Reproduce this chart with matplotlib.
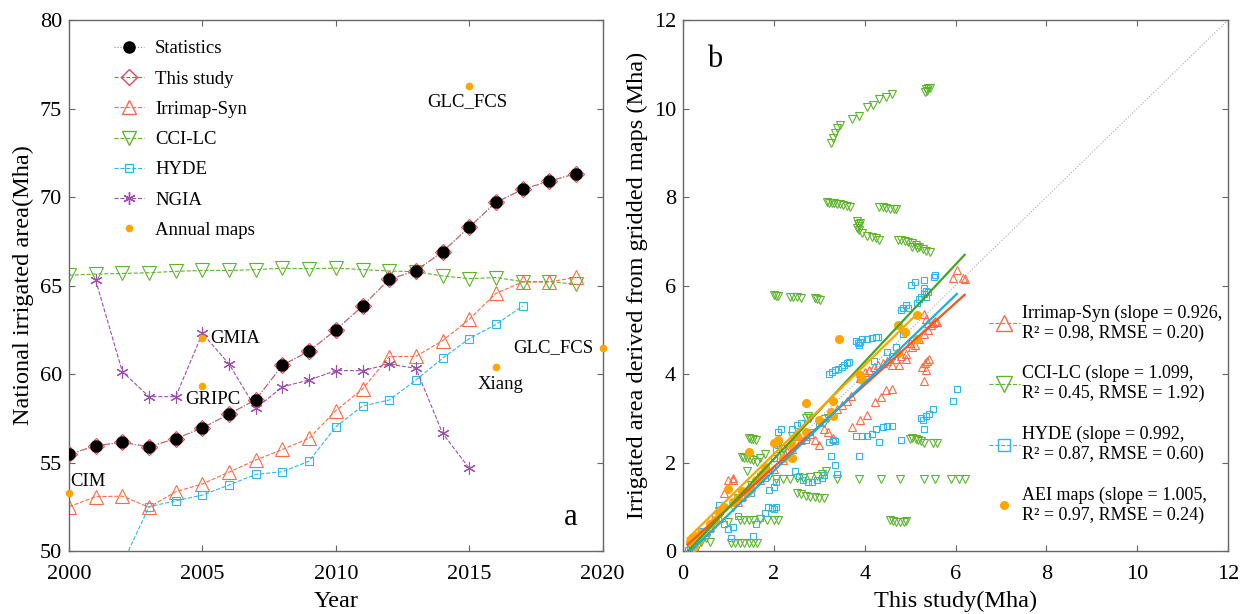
import numpy as np
import matplotlib
matplotlib.use('Agg')
import matplotlib.pyplot as plt
from matplotlib.lines import Line2D

plt.rcParams['font.family'] = ['Liberation Serif', 'DejaVu Serif']
plt.rcParams['mathtext.fontset'] = 'stix'

#### PANEL A data: national irrigated area (Mha)
years = list(range(2000, 2020))
statistics = [55.46, 55.95, 56.14, 55.89, 56.35, 56.95, 57.74, 58.55, 60.50, 61.30,
              62.49, 63.84, 65.35, 65.84, 66.91, 68.30, 69.70, 70.43, 70.90, 71.32]
this_study = [55.46, 55.95, 56.14, 55.89, 56.35, 56.95, 57.74, 58.55, 60.50, 61.30,
              62.49, 63.84, 65.35, 65.84, 66.91, 68.30, 69.70, 70.43, 70.90, 71.32]
irrimap = [52.50, 53.07, 53.10, 52.47, 53.35, 53.79, 54.46, 55.14, 55.74, 56.37,
           57.93, 59.15, 60.98, 61.00, 61.88, 63.09, 64.56, 65.20, 65.20, 65.46]
cci_lc = [65.58, 65.65, 65.68, 65.72, 65.80, 65.85, 65.85, 65.90, 65.98, 65.95,
          65.98, 65.90, 65.82, 65.78, 65.54, 65.39, 65.45, 65.22, 65.22, 65.07]
hyde_years = list(range(2000, 2018))
hyde = [47.5, 48.5, 49.28, 52.50, 52.84, 53.16, 53.73, 54.33, 54.48, 55.08,
        57.02, 58.19, 58.53, 59.66, 60.89, 62.00, 62.80, 63.84]
ngia_years = list(range(2001, 2016))
ngia = [65.31, 60.13, 58.72, 58.72, 62.30, 60.56, 58.06, 59.28, 59.66, 60.19,
        60.19, 60.56, 60.32, 56.65, 54.67]
map_names = ['CIM', 'GMIA', 'GRIPC', 'Xiang', 'GLC_FCS', 'GLC_FCS']
map_years = [2000, 2005, 2005, 2016, 2020, 2015]
map_values = [53.26, 62.02, 59.34, 60.41, 61.49, 76.29]
map_offsets = [(0.7, 8.3), (5.4, 0), (-12.5, -9.8), (3, -12.7), (-6.5, 0), (-1.3, -11.5)]
map_ha = ['left', 'left', 'left', 'center', 'right', 'center']

#### PANEL B data: gridded map area vs this study (Mha)
cci_x = [3.25, 3.30, 3.34, 3.38, 3.45, 3.72, 3.88, 4.05, 4.18, 4.31, 4.47, 4.60,
         5.32, 5.36, 5.40, 5.43, 5.38,
         3.17, 3.22, 3.28, 3.33, 3.38, 3.45, 3.52, 3.60, 3.67,
         4.32, 4.40, 4.48, 4.56, 4.64, 4.70,
         3.82, 3.85, 3.88, 3.84, 3.87, 3.90, 3.95, 4.05, 4.15, 4.25, 4.32,
         4.73, 4.80, 4.88, 4.96, 5.04, 5.12, 5.20, 5.28, 5.36, 5.44, 5.05, 5.15,
         2.00, 2.05, 2.10, 2.35, 2.42, 2.50, 2.60, 2.90, 2.96, 3.02,
         1.45, 1.50, 1.55, 1.60, 1.30, 1.35, 1.40, 1.48, 1.55, 1.62,
         2.05, 2.20, 2.35, 2.50, 2.65, 2.80, 2.95, 3.05, 3.15,
         3.38, 3.88, 4.35, 4.78, 5.31, 5.55, 5.90, 6.07, 6.20,
         2.50, 2.60, 2.70, 2.80, 2.90, 3.00, 3.10,
         5.00, 5.05, 5.12, 5.18, 5.25, 5.30, 5.50, 5.60,
         4.55, 4.62, 4.70, 4.78, 4.86, 4.92,
         1.70, 1.85, 2.00, 2.10, 1.25, 1.35, 1.45, 1.55,
         1.05, 1.15, 1.25, 1.35, 1.45, 1.55, 1.62,
         0.2, 0.3, 0.4, 0.5, 0.6, 0.7, 0.8, 1.0, 1.1, 1.2, 1.4, 1.5, 1.7, 1.8, 1.9,
         2.1, 2.2, 2.4, 2.7, 2.75, 2.8, 3.1, 3.2]
cci_y = [9.21, 9.33, 9.44, 9.55, 9.63, 9.76, 9.84, 10.04, 10.08, 10.21, 10.27, 10.32,
         10.38, 10.45, 10.47, 10.46, 10.40,
         7.88, 7.87, 7.87, 7.86, 7.85, 7.84, 7.82, 7.80, 7.77,
         7.78, 7.77, 7.75, 7.74, 7.73, 7.72,
         7.45, 7.40, 7.35, 7.30, 7.25, 7.42, 7.18, 7.12, 7.10, 7.08, 7.02,
         7.03, 7.02, 7.00, 6.98, 6.95, 6.92, 6.88, 6.82, 6.78, 6.76, 6.87, 6.85,
         5.78, 5.76, 5.76, 5.75, 5.74, 5.73, 5.72, 5.72, 5.70, 5.68,
         2.55, 2.53, 2.52, 2.50, 2.12, 2.10, 2.10, 2.08, 2.05, 2.02,
         1.62, 1.62, 1.63, 1.64, 1.65, 1.67, 1.70, 1.75, 1.80,
         1.62, 1.62, 1.62, 1.62, 1.62, 1.62, 1.62, 1.62, 1.62,
         1.30, 1.28, 1.25, 1.23, 1.21, 1.20, 1.19,
         2.52, 2.55, 2.52, 2.50, 2.48, 2.45, 2.45, 2.43,
         0.70, 0.68, 0.66, 0.66, 0.66, 0.67,
         0.72, 0.71, 0.70, 0.70, 0.70, 0.70, 0.70, 0.70,
         0.18, 0.17, 0.17, 0.17, 0.17, 0.17, 0.18,
         0.05, 0.10, 0.20, 0.30, 0.20, 0.60, 0.90, 0.65, 1.00, 1.20, 1.80, 1.50, 2.10, 2.20, 1.70,
         2.40, 2.30, 2.60, 3.00, 3.05, 3.00, 2.90, 3.00]

irr_x = [6.03, 5.95, 6.16, 6.20,
         5.31, 5.35, 5.40, 5.45, 5.50, 5.55, 5.60,
         5.27, 5.32, 5.38, 5.42, 5.35, 5.30,
         3.72, 3.89, 4.05, 4.22, 4.35, 4.47, 4.60,
         0.3, 0.5, 0.6, 0.8, 0.9, 1.0, 1.1, 1.2, 1.3, 1.5, 1.7, 1.8, 2.0, 2.2, 2.4, 2.5,
         2.7, 2.9, 3.0, 3.1, 3.2, 3.3,
         3.4, 3.5, 3.7, 3.9, 4.0, 4.1, 4.3, 4.5, 4.6, 4.7, 4.8, 4.9, 5.0, 5.1, 5.2, 5.3, 5.4,
         1.1, 2.3, 2.6, 2.8, 3.6, 4.2, 4.4, 4.75, 4.9, 5.05]
irr_y = [6.34, 6.16, 6.16, 6.14,
         5.35, 5.25, 5.15, 5.10, 5.15, 5.20, 5.18,
         4.15, 4.25, 4.30, 4.35, 4.10, 3.85,
         2.81, 2.95, 3.07, 3.37, 3.49, 3.64, 3.67,
         0.30, 0.45, 0.55, 0.75, 1.30, 1.60, 1.65, 1.10, 1.25, 1.45, 1.60, 1.90, 1.85, 2.05, 2.30, 2.60,
         2.60, 2.50, 2.40, 2.75, 2.70, 2.55,
         3.20, 3.30, 3.50, 3.90, 4.05, 4.10, 4.20, 4.30, 4.20, 4.35, 4.40, 4.45, 4.70, 4.65, 4.80, 4.90, 5.00,
         1.60, 2.25, 2.50, 2.65, 3.40, 4.15, 4.25, 4.20, 4.35, 4.60]

hyde_x = [5.02, 5.10, 5.31, 5.52, 5.55, 5.31, 5.35,
          5.15, 5.20, 5.25, 5.30, 5.35, 5.40, 4.80, 4.85, 4.90, 4.95,
          3.80, 3.85, 3.90, 3.95, 4.05, 4.15, 4.25, 4.30, 3.88,
          3.22, 3.28, 3.35, 3.42, 3.50, 3.55, 3.60, 3.65,
          4.40, 4.50, 4.60, 3.80, 3.95, 4.05, 4.15, 4.25,
          3.21, 3.30, 3.35, 3.25, 3.40, 3.35, 3.88, 4.31, 4.81,
          5.23, 5.28, 5.35, 5.42, 5.50, 5.30, 5.95, 6.03,
          2.46, 2.55, 2.65, 2.75, 2.85, 2.95, 3.05, 3.10,
          1.87, 1.95, 2.00, 2.05, 1.90, 2.00, 2.05,
          0.10, 0.15, 0.20, 0.25, 0.30, 0.40, 0.50, 0.60, 0.70, 0.80, 0.90, 1.00,
          1.05, 1.10, 1.20, 1.30, 1.40, 1.50, 1.60, 1.55, 1.70, 1.80, 1.70, 1.80,
          2.00, 2.05, 2.10, 2.20, 2.40, 2.50, 2.60, 2.70, 2.80, 3.00, 3.10, 2.10, 2.15,
          3.90, 4.20, 4.50, 4.70, 4.85, 4.60]
hyde_y = [6.01, 6.09, 6.12, 6.20, 6.24, 5.94, 5.88,
          5.60, 5.70, 5.75, 5.80, 5.75, 5.85, 5.45, 5.50, 5.55, 5.50,
          4.75, 4.70, 4.72, 4.78, 4.80, 4.82, 4.83, 4.83, 4.65,
          4.00, 4.05, 4.10, 4.12, 4.15, 4.20, 4.25, 4.28,
          2.80, 2.82, 2.82, 2.60, 2.60, 2.60, 2.65, 2.75,
          2.47, 2.50, 2.48, 2.15, 1.75, 1.95, 2.15, 2.47, 2.50,
          3.00, 2.95, 3.05, 3.10, 3.20, 2.75, 3.40, 3.67,
          1.80, 1.70, 1.60, 1.55, 1.55, 1.60, 1.65, 1.72,
          1.00, 0.98, 0.95, 1.00, 1.38, 1.45, 1.55,
          0.02, 0.05, 0.00, 0.20, 0.30, 0.45, 0.40, 0.50, 0.80, 1.05, 0.60, 0.50,
          0.30, 0.55, 0.80, 1.20, 1.30, 1.30, 0.60, 0.35, 0.75, 0.85, 1.70, 1.65,
          2.10, 2.30, 2.40, 2.20, 2.75, 2.85, 2.90, 2.50, 2.70, 2.90, 3.00, 2.70, 2.75,
          3.90, 4.30, 4.50, 4.60, 4.90, 4.40]

aei_x = [5.15, 4.73, 4.89, 5.16, 3.44, 2.71, 1.46, 4.73, 3.89, 3.95, 3.30, 3.25, 3.30,
         2.50, 2.40, 2.10, 2.00, 1.80, 1.70, 1.50, 1.60, 1.40, 1.20, 1.00, 1.10, 0.90,
         0.70, 0.60, 0.50, 0.40, 0.30, 0.20, 0.15, 0.25, 2.70, 3.00, 2.20, 2.40, 0.8,
         1.3, 1.75, 0.35]
aei_y = [5.33, 5.11, 4.96, 4.78, 4.78, 3.34, 2.23, 4.48, 3.98, 3.86, 3.40, 3.15, 3.05,
         2.60, 2.40, 2.50, 2.45, 1.90, 1.65, 1.40, 1.60, 1.30, 1.20, 1.40, 1.10, 1.00,
         0.70, 0.60, 0.45, 0.40, 0.35, 0.30, 0.20, 0.10, 2.70, 2.95, 2.10, 2.10, 0.85,
         1.35, 1.75, 0.25]

fit_names = ['Irrimap-Syn', 'CCI-LC', 'HYDE', 'AEI maps']
fit_slope = [0.926, 1.099, 0.992, 1.005]
fit_icpt = [0.05, -0.12, -0.17, 0.18]
fit_r2 = [0.98, 0.45, 0.87, 0.97]
fit_rmse = [0.20, 1.92, 0.60, 0.24]
fit_xmin = [0.10, 0.10, 0.10, 0.10]
fit_xmax = [6.20, 6.20, 6.03, 5.16]

c_stat_line = '#909090'
c_study = '#E04858'
c_irr = '#FF6A45'
c_cci = '#5DB52F'
c_hyde = '#2DB8EA'
c_ngia = '#A04DB0'
c_map = '#FFA500'
fit_colors = ['#F25422', '#46A41E', '#1AAEE6', '#FFA500']
spine_c = '#666666'

fig = plt.figure(figsize=(12.45, 6.14), dpi=100)
ax1 = fig.add_axes([0.0554, 0.1026, 0.4287, 0.8648])
ax2 = fig.add_axes([0.5486, 0.1026, 0.4378, 0.8648])

for ax in (ax1, ax2):
    for s in ax.spines.values():
        s.set_color(spine_c)
        s.set_linewidth(1.0)
    ax.tick_params(direction='in', length=4, width=0.8, color=spine_c,
                   labelsize=16, top=True, right=True, pad=5)
    ax.tick_params(axis='x', pad=10)

####PLOT A
ax1.plot(years, this_study, ls='-.', lw=0.8, color=c_study, marker='D', ms=8.5,
         mfc='none', mec=c_study, mew=0.8, zorder=3)
ax1.plot(years, statistics, ls=':', lw=0.8, color=c_stat_line, marker='o', ms=8,
         mfc='black', mec='black', zorder=4)
ax1.plot(years, irrimap, ls='--', lw=0.8, color=c_irr, marker='^', ms=10,
         mfc='none', mec=c_irr, mew=0.8, zorder=2)
ax1.plot(years, cci_lc, ls='--', lw=0.8, color=c_cci, marker='v', ms=10,
         mfc='none', mec=c_cci, mew=0.8, zorder=2)
ax1.plot(hyde_years, hyde, ls='--', lw=0.8, color=c_hyde, marker='s', ms=6,
         mfc='none', mec=c_hyde, mew=0.8, zorder=2)
ax1.plot(ngia_years, ngia, ls='--', lw=0.8, color=c_ngia, marker=(6, 2, 0), ms=9,
         mec=c_ngia, mew=0.8, zorder=2)
ax1.plot(map_years, map_values, ls='none', marker='o', ms=4.5, color=c_map,
         zorder=5, clip_on=False)
for nm, yr, v, off, ha in zip(map_names, map_years, map_values, map_offsets, map_ha):
    ax1.annotate(nm, (yr, v), xytext=off, textcoords='offset points',
                 ha=ha, va='center', fontsize=13.5)

ax1.text(2018.8, 51.9, 'a', fontsize=22, ha='center', va='center')
ax1.set_xlim(2000, 2020)
ax1.set_ylim(50, 80)
ax1.set_xticks([2000, 2005, 2010, 2015, 2020])
ax1.set_yticks([50, 55, 60, 65, 70, 75, 80])
ax1.set_xlabel('Year', fontsize=17.5, labelpad=5)
ax1.set_ylabel('National irrigated area(Mha)', fontsize=17.5, labelpad=4)

leg_a = [
    Line2D([], [], ls=':', lw=0.8, color=c_stat_line, marker='o', ms=8, mfc='black', mec='black'),
    Line2D([], [], ls='--', lw=0.8, color=c_study, marker='D', ms=8.5, mfc='none', mec=c_study),
    Line2D([], [], ls='--', lw=0.8, color=c_irr, marker='^', ms=10, mfc='none', mec=c_irr),
    Line2D([], [], ls='--', lw=0.8, color=c_cci, marker='v', ms=10, mfc='none', mec=c_cci),
    Line2D([], [], ls='--', lw=0.8, color=c_hyde, marker='s', ms=6, mfc='none', mec=c_hyde),
    Line2D([], [], ls='--', lw=0.8, color=c_ngia, marker=(6, 2, 0), ms=9, mec=c_ngia),
    Line2D([], [], ls='none', marker='o', ms=4.5, color=c_map),
]
ax1.legend(leg_a, ['Statistics', 'This study', 'Irrimap-Syn', 'CCI-LC', 'HYDE', 'NGIA', 'Annual maps'],
           loc='upper left', bbox_to_anchor=(0.07, 0.976), frameon=False, fontsize=13.5,
           handlelength=1.6, handletextpad=0.6, labelspacing=0.7, borderaxespad=0)

####PLOT B
ax2.plot([0, 12], [0, 12], ls=':', lw=0.8, color='#AAAAAA', zorder=1)
ax2.plot(cci_x, cci_y, ls='none', marker='v', ms=6, mfc='none', mec=c_cci, mew=0.8, zorder=2)
ax2.plot(irr_x, irr_y, ls='none', marker='^', ms=6, mfc='none', mec=c_irr, mew=0.8, zorder=2)
ax2.plot(hyde_x, hyde_y, ls='none', marker='s', ms=4, mfc='none', mec=c_hyde, mew=0.8, zorder=3)
ax2.plot(aei_x, aei_y, ls='none', marker='o', ms=5.5, color=c_map, zorder=4)

for k in range(4):
    xs = np.array([fit_xmin[k], fit_xmax[k]])
    ax2.plot(xs, fit_slope[k] * xs + fit_icpt[k], color=fit_colors[k], lw=1.6, zorder=5)

ax2.text(0.7, 11.1, 'b', fontsize=22, ha='center', va='center')
ax2.set_xlim(0, 12)
ax2.set_ylim(0, 12)
ax2.set_xticks(range(0, 13, 2))
ax2.set_yticks(range(0, 13, 2))
ax2.set_xlabel('This study(Mha)', fontsize=17.5, labelpad=5)
ax2.set_ylabel('Irrigated area derived from gridded maps (Mha)', fontsize=17.5, labelpad=4)

leg_b = [
    Line2D([], [], ls='--', lw=0.8, color=c_irr, marker='^', ms=11, mfc='none', mec=c_irr),
    Line2D([], [], ls='--', lw=0.8, color=c_cci, marker='v', ms=11, mfc='none', mec=c_cci),
    Line2D([], [], ls='--', lw=0.8, color=c_hyde, marker='s', ms=8, mfc='none', mec=c_hyde),
    Line2D([], [], ls='none', marker='o', ms=5.5, color=c_map),
]
labels_b = ['%s (slope = %.3f,\nR² = %.2f, RMSE = %.2f)' % (n, s, r, e)
            for n, s, r, e in zip(fit_names, fit_slope, fit_r2, fit_rmse)]
lg = ax2.legend(leg_b, labels_b, loc='upper left', bbox_to_anchor=(0.548, 0.478),
                frameon=False, fontsize=13.0, handlelength=1.7, handletextpad=0.15,
                labelspacing=1.3, borderaxespad=0)
lg.set_zorder(10)

fig.savefig('out.png', dpi=100)
